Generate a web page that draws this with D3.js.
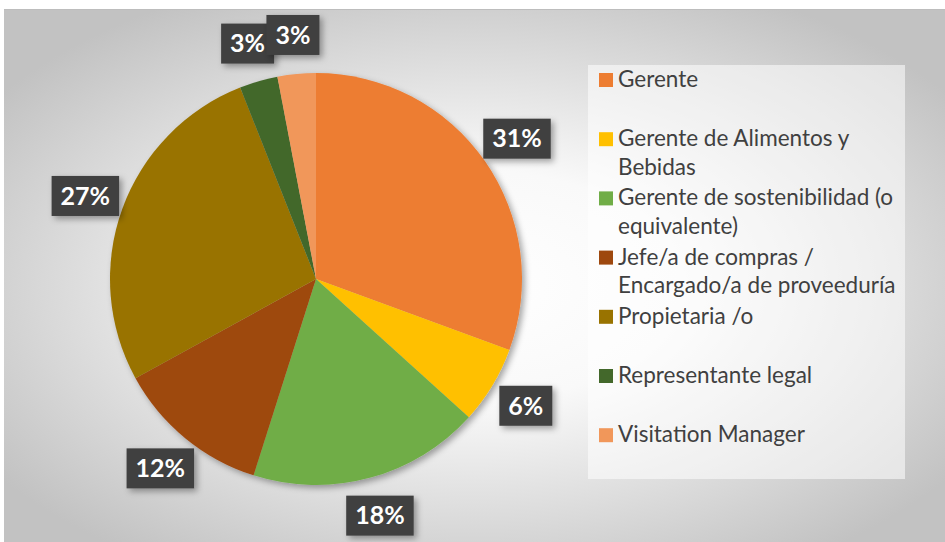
<html>
<script src="https://d3js.org/d3.v7.min.js"></script>
<style>
  body { margin: 0; background: #fff; }
  .legend text { font-family: Lato, "Liberation Sans", sans-serif; font-size: 22.5px; fill: #404040; }
  .labels text { font-family: Lato, "Liberation Sans", sans-serif; font-size: 25px; font-weight: bold; fill: #fff; }
</style>
<body>
<svg id="chart" width="945" height="542"></svg>
<script>
// share of respondents by role (%)
var categories = ["Gerente", "Gerente de Alimentos y Bebidas", "Gerente de sostenibilidad (o equivalente)",
  "Jefe/a de compras / Encargado/a de proveeduría", "Propietaria /o", "Representante legal", "Visitation Manager"];
var shares = [30.6, 6.1, 18.2, 12.1, 27.0, 3.0, 3.0];
var colors = ["#ED7D31", "#FFC000", "#70AD47", "#9E480E", "#997300", "#43682B", "#F1975A"];

var width = 945, height = 542;
var cx = 316, cy = 279, radius = 206;

var svg = d3.select("#chart");
var defs = svg.append("defs");

var grad = defs.append("radialGradient").attr("id", "bg")
  .attr("cx", "50%").attr("cy", "52%").attr("r", "62%");
grad.append("stop").attr("offset", "0%").attr("stop-color", "#ffffff");
grad.append("stop").attr("offset", "35%").attr("stop-color", "#f9f9f9");
grad.append("stop").attr("offset", "100%").attr("stop-color", "#c2c2c2");

var shadow = defs.append("filter").attr("id", "shadow")
  .attr("x", "-20%").attr("y", "-20%").attr("width", "150%").attr("height", "150%");
shadow.append("feDropShadow").attr("dx", 3).attr("dy", 3).attr("stdDeviation", 3)
  .attr("flood-color", "#000").attr("flood-opacity", 0.35);

// plot area background
svg.append("rect").attr("x", 4).attr("y", 9).attr("width", width - 4).attr("height", height - 9)
  .attr("fill", "url(#bg)");
svg.append("line").attr("x1", 4).attr("x2", width).attr("y1", 9.5).attr("y2", 9.5)
  .attr("stroke", "#bdbdbd").attr("stroke-width", 1);

var total = d3.sum(shares);
var pie = d3.pie().sort(null).value(function(d) { return d; });
var arcs = pie(shares);
var arc = d3.arc().innerRadius(0).outerRadius(radius);
var labelArc = d3.arc().innerRadius(radius * 1.19).outerRadius(radius * 1.19);

var g = svg.append("g").attr("transform", "translate(" + cx + "," + cy + ")");
g.append("g").attr("filter", "url(#shadow)")
  .selectAll("path")
  .data(arcs)
  .enter()
  .append("path")
  .attr("d", arc)
  .attr("fill", function(d, i) { return colors[i]; });

// data labels
var fmt = function(v) { return Math.round(v / total * 100) + "%"; };
var lab = g.append("g").attr("class", "labels")
  .selectAll("g")
  .data(arcs)
  .enter()
  .append("g")
  .attr("transform", function(d) { return "translate(" + labelArc.centroid(d) + ")"; });
lab.append("rect").attr("fill", "#404040").attr("filter", "url(#shadow)");
lab.append("text")
  .attr("text-anchor", "middle")
  .attr("dy", "0.35em")
  .text(function(d) { return fmt(d.value); });
lab.each(function() {
  var t = d3.select(this).select("text");
  var w = t.node().getComputedTextLength();
  d3.select(this).select("rect")
    .attr("x", -w / 2 - 9).attr("y", -20).attr("width", w + 18).attr("height", 40);
});

// legend
var lx = 588, ly = 65, lw = 317, lh = 414;
svg.append("rect").attr("x", lx).attr("y", ly).attr("width", lw).attr("height", lh)
  .attr("fill", "#ffffff").attr("fill-opacity", 0.55);

var legend = svg.append("g").attr("class", "legend");
var pitch = 59.2, lineH = 28.6, maxW = 284;
categories.forEach(function(name, i) {
  var base = 87 + i * pitch;
  legend.append("rect").attr("x", 599).attr("y", base - 14).attr("width", 14).attr("height", 14)
    .attr("fill", colors[i]);
  var t = legend.append("text").attr("x", 618).attr("y", base);
  var words = name.split(" "), line = [], row = 0;
  var ts = t.append("tspan").attr("x", 618).attr("y", base);
  words.forEach(function(w) {
    line.push(w);
    ts.text(line.join(" "));
    if (ts.node().getComputedTextLength() > maxW && line.length > 1) {
      line.pop();
      ts.text(line.join(" "));
      line = [w];
      row++;
      ts = t.append("tspan").attr("x", 618).attr("y", base + row * lineH).text(w);
    }
  });
});
</script>
</body>
</html>
